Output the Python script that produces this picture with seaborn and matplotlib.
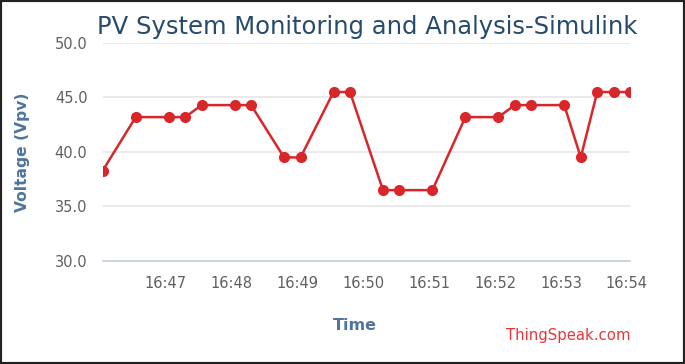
import matplotlib
matplotlib.use("Agg")
import matplotlib.dates as mdates
import matplotlib.pyplot as plt
import matplotlib.patches as mpatches
import pandas as pd
import seaborn as sns

# sample times (hh:mm:ss) and PV voltage readings
times = [
    "16:46:03", "16:46:33", "16:47:03", "16:47:18", "16:47:33", "16:48:03",
    "16:48:18", "16:48:48", "16:49:03", "16:49:33", "16:49:48", "16:50:18",
    "16:50:33", "16:51:03", "16:51:33", "16:52:03", "16:52:18", "16:52:33",
    "16:53:03", "16:53:18", "16:53:33", "16:53:48", "16:54:03",
]
voltage = [
    38.3, 43.2, 43.2, 43.2, 44.3, 44.3,
    44.3, 39.5, 39.5, 45.5, 45.5, 36.5,
    36.5, 36.5, 43.2, 43.2, 44.3, 44.3,
    44.3, 39.5, 45.5, 45.5, 45.5,
]
y_ticks = [30, 35, 40, 45, 50]

df = pd.DataFrame({"time": pd.to_datetime(["2024-01-01 " + t for t in times]), "voltage": voltage})

sns.set_theme(style="white")
plt.rcParams["font.family"] = ["DejaVu Sans"]

fig = plt.figure(figsize=(6.85, 3.64), dpi=100)
ax = fig.add_axes([0.150, 0.283, 0.770, 0.599])

sns.lineplot(data=df, x="time", y="voltage", ax=ax, color="#d9262a", linewidth=1.8,
             marker="o", markersize=8, markeredgewidth=0, zorder=3)

ax.set_xlim(df["time"].iloc[0], df["time"].iloc[-1])
ax.set_ylim(30, 50)
ax.set_yticks(y_ticks)
ax.set_yticklabels([f"{v:.1f}" for v in y_ticks])
ax.xaxis.set_major_locator(mdates.MinuteLocator())
ax.xaxis.set_major_formatter(mdates.DateFormatter("%H:%M"))

ax.grid(True, axis="y", color="#e6e6e6", linewidth=1.2)
ax.grid(False, axis="x")
for side in ["left", "right", "top"]:
    ax.spines[side].set_visible(False)
ax.spines["bottom"].set_color("#c0d0e0")
ax.spines["bottom"].set_linewidth(1.2)
ax.tick_params(axis="x", colors="#606060", labelsize=10.5, length=7, width=1, direction="out", pad=4)
ax.tick_params(axis="x", color="#c0d0e0")
ax.tick_params(axis="y", colors="#606060", labelsize=10.5, length=0, pad=11)

ax.set_xlabel("Time", color="#4d759e", fontsize=11.5, fontweight="bold")
ax.xaxis.set_label_coords(0.478, -0.262)
ax.set_ylabel("Voltage (Vpv)", color="#4d759e", fontsize=11.2, fontweight="bold", labelpad=18)

fig.text(0.536, 0.926, "PV System Monitoring and Analysis-Simulink", ha="center", va="center",
         color="#274b6d", fontsize=17.5)
fig.text(0.921, 0.078, "ThingSpeak.com", ha="right", va="center", color="#e8353a", fontsize=10.7)

fig.add_artist(mpatches.Rectangle((0, 0), 1, 1, transform=fig.transFigure, fill=False,
                                  edgecolor="#222222", linewidth=3))

fig.savefig("out.png", dpi=100, facecolor="white")
